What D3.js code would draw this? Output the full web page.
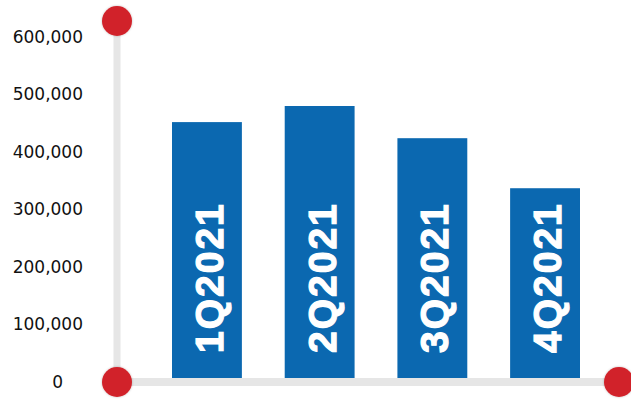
<!DOCTYPE html>
<html>
<head>
<meta charset="utf-8">
<script src="https://cdn.jsdelivr.net/npm/d3@7"></script>
<style>
	body { margin: 0; background: #fff; }
</style>
</head>
<body>
<svg id="chart"></svg>
<script>
var quarters = ["1Q2021", "2Q2021", "3Q2021", "4Q2021"]
var values = [452000, 480000, 424000, 337000]
var yTicks = [0, 100000, 200000, 300000, 400000, 500000, 600000]

var dimensions = {
	width: 631,
	height: 402,
	axisX: 117,
	axisY: 382,
	top: 21,
	right: 619
}

var svg = d3.select("#chart")
	.attr("width", dimensions.width)
	.attr("height", dimensions.height)

var xScale = d3.scaleBand()
	.domain(quarters)
	.range([140, 612])
	.paddingInner(0.38)
	.paddingOuter(0.284)

var yScale = d3.scaleLinear()
	.domain([0, 600000])
	.range([dimensions.axisY, 37])

// bars
svg.append("g")
	.selectAll("rect")
	.data(quarters)
	.enter()
	.append("rect")
	.attr("x", d => xScale(d))
	.attr("width", xScale.bandwidth())
	.attr("y", (d, i) => yScale(values[i]))
	.attr("height", (d, i) => yScale(0) - yScale(values[i]))
	.attr("fill", "#0b68b0")

// labels inside bars (heavy white text)
svg.append("g")
	.selectAll("text")
	.data(quarters)
	.enter()
	.append("text")
	.attr("transform", d => "translate(" + (xScale(d) + xScale.bandwidth() / 2 + 16) + "," + 353 + ") rotate(-90)")
	.text(d => d)
	.attr("text-anchor", "start")
	.style("font-family", "'Liberation Sans', Arial, sans-serif")
	.style("font-weight", "bold")
	.style("font-size", "39px")
	.style("letter-spacing", "2px")
	.attr("fill", "#fff")
	.attr("stroke", "#fff")
	.attr("stroke-width", 1.2)

// y axis via d3, then restyled
var yAxisgen = d3.axisLeft(yScale)
	.tickValues(yTicks)
	.tickSize(0)
	.tickPadding(0)
	.tickFormat(d3.format(","))

var yAxis = svg.append("g")
	.attr("transform", "translate(83,0)")
	.call(yAxisgen)
yAxis.select(".domain").remove()
yAxis.selectAll("text")
	.style("font-family", "'DejaVu Sans', sans-serif")
	.style("font-size", "17px")
	.attr("fill", "#111")
	.attr("dx", d => d == 0 ? -20 : 0)

// axis lines
svg.append("line")
	.attr("x1", dimensions.axisX).attr("x2", dimensions.axisX)
	.attr("y1", dimensions.top).attr("y2", dimensions.axisY)
	.style("stroke", "#e6e6e6")
	.style("stroke-width", 7)

svg.append("line")
	.attr("x1", dimensions.axisX).attr("x2", dimensions.right)
	.attr("y1", dimensions.axisY).attr("y2", dimensions.axisY)
	.style("stroke", "#e6e6e6")
	.style("stroke-width", 8)

// end dots
var defs = svg.append("defs")
var shadow = defs.append("filter").attr("id", "dotshadow")
	.attr("x", "-30%").attr("y", "-30%").attr("width", "160%").attr("height", "160%")
shadow.append("feDropShadow")
	.attr("dx", 0).attr("dy", 0)
	.attr("stdDeviation", 1.2)
	.attr("flood-color", "#000")
	.attr("flood-opacity", 0.25)

var dots = [[dimensions.axisX, dimensions.top], [dimensions.axisX, dimensions.axisY], [dimensions.right, dimensions.axisY]]
svg.append("g")
	.selectAll("circle")
	.data(dots)
	.enter()
	.append("circle")
	.attr("cx", d => d[0])
	.attr("cy", d => d[1])
	.attr("r", 15)
	.attr("fill", "#d1222a")
	.attr("filter", "url(#dotshadow)")
</script>
</body>
</html>
